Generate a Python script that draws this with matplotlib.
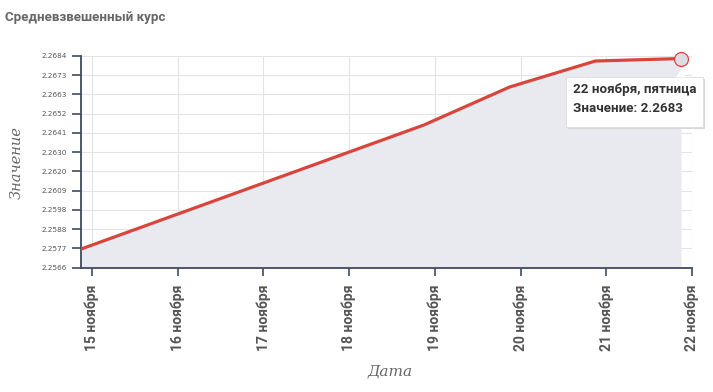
import matplotlib
matplotlib.use("Agg")
import matplotlib.pyplot as plt
from matplotlib.patches import FancyBboxPatch, Polygon
import numpy as np

# ---- data ----
days = [0, 1, 2, 3, 4, 5, 6, 7]
values = [2.25763, 2.25936, 2.26109, 2.26282, 2.26455, 2.26667, 2.26812, 2.26826]
x_tick_labels = ["15 ноября", "16 ноября", "17 ноября", "18 ноября",
                 "19 ноября", "20 ноября", "21 ноября", "22 ноября"]
y_tick_labels = ["2.2566", "2.2577", "2.2588", "2.2598", "2.2609", "2.2620",
                 "2.2630", "2.2641", "2.2652", "2.2663", "2.2673", "2.2684"]
title = "Средневзвешенный курс"
tooltip_lines = ["22 ноября, пятница", "Значение: 2.2683"]

W, H = 713, 392
fig = plt.figure(figsize=(W / 100, H / 100), dpi=100)
L, R, T, B = 81, 692, 56, 267.5
ax = fig.add_axes([L / W, 1 - B / H, (R - L) / W, (B - T) / H])

y_ticks = np.linspace(2.2566, 2.2684, len(y_tick_labels))
tick_offset = 0.128
x_ticks = np.array(days) + tick_offset

ax.fill_between(days, values, 2.2566, color="#e9eaef", zorder=1, linewidth=0)
ax.plot(days, values, color="#d8453c", linewidth=2.3, zorder=3, solid_capstyle="round")
ax.plot(days[-1], values[-1], marker="o", markersize=10, markerfacecolor="#dcdde3",
        markeredgecolor="#d8453c", markeredgewidth=0.9, zorder=4, clip_on=False)

ax.set_xlim(0, x_ticks[-1])
ax.set_ylim(y_ticks[0], y_ticks[-1])
ax.set_yticks(y_ticks)
ax.set_yticklabels(y_tick_labels)
ax.set_xticks(x_ticks)
ax.set_xticklabels(x_tick_labels, rotation=90, fontfamily="Roboto",
                   fontweight="bold", fontsize=10, color="#555555")
for lab in ax.get_yticklabels():
    lab.set_fontsize(5.2)
    lab.set_color("#555555")

ax.grid(True, color="#e3e3e3", linewidth=0.8, zorder=0)
ax.set_axisbelow(True)
for s in ["top", "right"]:
    ax.spines[s].set_visible(False)
for s in ["left", "bottom"]:
    ax.spines[s].set_color("#3f4a60")
    ax.spines[s].set_linewidth(1.3)
ax.tick_params(axis="y", length=6.5, width=1.2, color="#3f4a60", pad=3.5)
ax.tick_params(axis="x", length=6, width=1.2, color="#3f4a60", pad=6)

fig.text(390 / W, 1 - 372 / H, "Дата", fontfamily="DejaVu Serif", fontstyle="italic",
         fontsize=11, color="#666666", ha="center", va="center")
fig.text(17 / W, 1 - 163 / H, "Значение", rotation=90, fontfamily="DejaVu Serif",
         fontstyle="italic", fontsize=10.5, color="#666666", ha="center", va="center")

fig.text(5 / W, 1 - 17 / H, title, fontfamily="Roboto", fontweight="bold",
         fontsize=9.6, color="#666666", ha="left", va="center")

# tooltip
bx0, by0, bw, bh = 566, 77, 137, 50
shadow = FancyBboxPatch(((bx0 + 2) / W, 1 - (by0 + bh + 2) / H), bw / W, bh / H,
                        boxstyle="square,pad=0", transform=fig.transFigure,
                        facecolor="#d8d8d8", edgecolor="none", zorder=9)
box = FancyBboxPatch((bx0 / W, 1 - (by0 + bh) / H), bw / W, bh / H,
                     boxstyle="square,pad=0", transform=fig.transFigure,
                     facecolor="white", edgecolor="#dddddd", linewidth=0.6, zorder=10)
notch = Polygon([((676) / W, 1 - 77.5 / H), (681 / W, 1 - 70 / H), (686 / W, 1 - 77.5 / H)],
                closed=True, transform=fig.transFigure, facecolor="white",
                edgecolor="none", zorder=10)
fig.patches.extend([shadow, box, notch])
fig.text(573 / W, 1 - 90 / H, tooltip_lines[0], fontfamily="Roboto", fontweight="bold",
         fontsize=9.6, color="#333333", ha="left", va="center", zorder=11)
fig.text(573 / W, 1 - 109 / H, tooltip_lines[1], fontfamily="Roboto", fontweight="bold",
         fontsize=9.6, color="#333333", ha="left", va="center", zorder=11)

fig.savefig("out.png", dpi=100, facecolor="white")
